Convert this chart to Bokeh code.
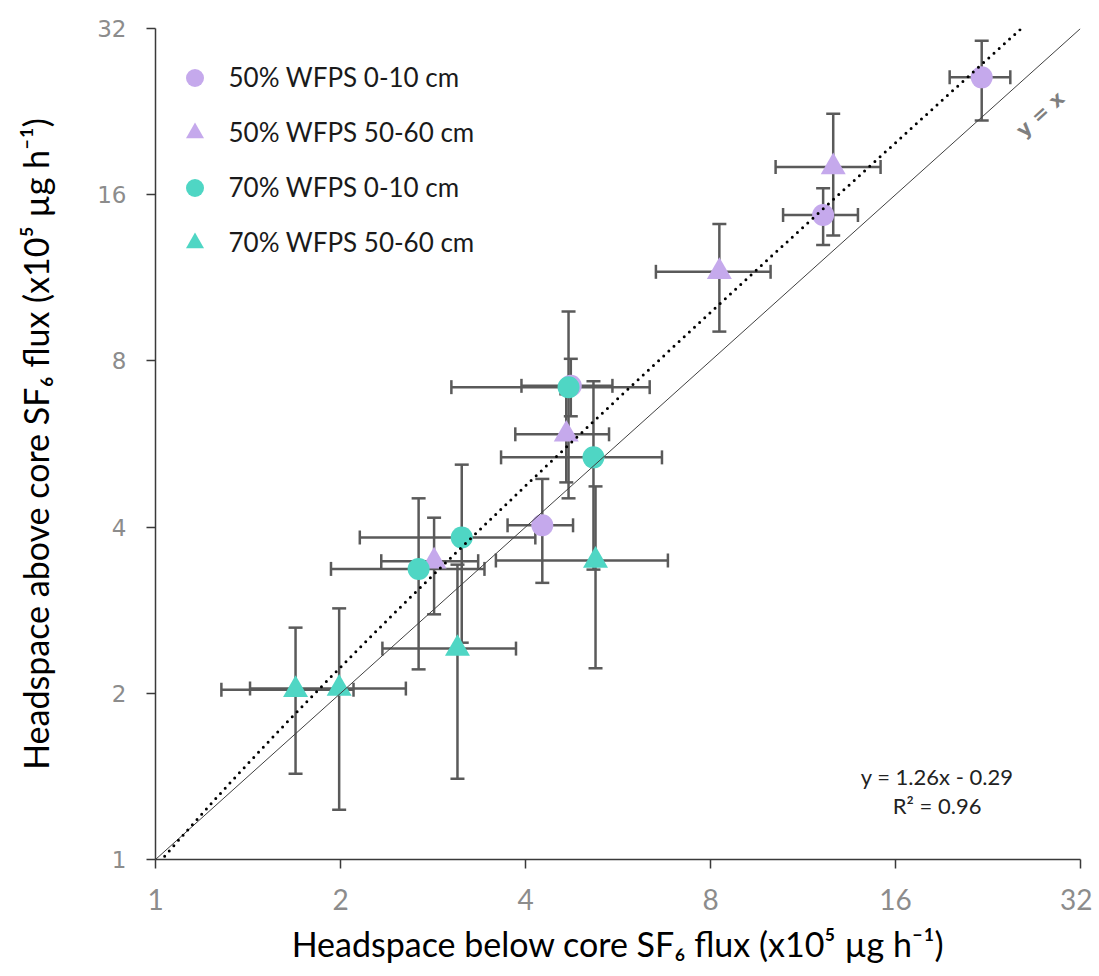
import numpy as np
from bokeh.plotting import figure
from bokeh.models import (ColumnDataSource, Whisker, TeeHead, FixedTicker, Label,
                          Legend, LegendItem, NumeralTickFormatter, Range1d)
from bokeh.embed import file_html
from bokeh.resources import INLINE

# ---------------- data ----------------
series_names = ["50% WFPS 0-10 cm", "50% WFPS 50-60 cm", "70% WFPS 0-10 cm", "70% WFPS 50-60 cm"]

s1_x = [22.1, 12.2, 4.26, 4.74]
s1_xerr = [2.5, 1.7, 0.52, 0.80]
s1_y = [26.1, 14.7, 4.03, 7.21]
s1_yerr = [4.3, 1.73, 0.86, 0.86]

s2_x = [12.67, 8.27, 4.66, 2.84]
s2_xerr = [2.46, 1.75, 0.81, 0.51]
s2_y = [17.96, 11.6, 5.89, 3.47]
s2_yerr = [4.46, 2.56, 1.07, 0.69]

s3_x = [4.70, 5.16, 3.15, 2.68]
s3_xerr = [1.67, 1.51, 1.0, 0.75]
s3_y = [7.17, 5.35, 3.83, 3.36]
s3_yerr = [2.66, 2.0, 1.36, 1.15]

s4_x = [5.20, 3.10, 1.69, 1.99]
s4_xerr = [1.62, 0.76, 0.41, 0.565]
s4_y = [3.48, 2.41, 2.03, 2.04]
s4_yerr = [1.26, 1.01, 0.60, 0.81]

axis_ticks = [1, 2, 4, 8, 16, 32]
fit_slope = 1.26
fit_intercept = -0.29
fit_text = "y = 1.26x - 0.29"
r2_text = "R² = 0.96"

PURPLE = "#c5a9ec"
CYAN = "#4fd6c4"
ERR = "#5a5a5a"
TITLE_FONT = "Lato"

p = figure(x_axis_type="log", y_axis_type="log",
           x_range=Range1d(1, 32), y_range=Range1d(1, 32),
           frame_width=925, frame_height=831,
           min_border_left=155, min_border_right=12, min_border_top=28, min_border_bottom=108,
           output_backend="svg", toolbar_location=None)
p.outline_line_color = None
p.xgrid.visible = False
p.ygrid.visible = False
p.background_fill_color = "white"
p.border_fill_color = "white"

for ax in (p.xaxis[0], p.yaxis[0]):
    ax.ticker = FixedTicker(ticks=axis_ticks)
    ax.formatter = NumeralTickFormatter(format="0")
    ax.axis_line_color = "#3a3a3a"
    ax.axis_line_width = 1.5
    ax.major_tick_line_color = "#3a3a3a"
    ax.major_tick_line_width = 1.5
    ax.major_tick_out = 9
    ax.major_tick_in = 0
    ax.minor_tick_out = 0
    ax.minor_tick_in = 0
    ax.axis_label_text_font = TITLE_FONT
    ax.axis_label_text_font_style = "normal"
    ax.axis_label_text_color = "black"
    ax.axis_label_text_font_size = "34px"

xa = p.xaxis[0]
xa.axis_label = "Headspace below core SF₆ flux (x10⁵ µg h⁻¹)"
xa.major_label_text_font = TITLE_FONT
xa.major_label_text_font_size = "28px"
xa.major_label_text_color = "#8c8c8c"
xa.major_label_standoff = 20
xa.axis_label_standoff = 10

ya = p.yaxis[0]
ya.axis_label = "Headspace above core SF₆ flux (x10⁵ µg h⁻¹)"
ya.major_label_text_font = "DejaVu Sans"
ya.major_label_text_font_size = "23px"
ya.major_label_text_color = "#8c8c8c"
ya.major_label_standoff = 20
ya.major_label_orientation = "horizontal"
ya.axis_label_standoff = 38

series = [
    (s1_x, s1_xerr, s1_y, s1_yerr, "circle", PURPLE, 22),
    (s2_x, s2_xerr, s2_y, s2_yerr, "triangle", PURPLE, 25),
    (s3_x, s3_xerr, s3_y, s3_yerr, "circle", CYAN, 22),
    (s4_x, s4_xerr, s4_y, s4_yerr, "triangle", CYAN, 25),
]

sources = []
for xs, xe, ys, ye, mk, col, sz in series:
    xs_a, xe_a, ys_a, ye_a = map(np.array, (xs, xe, ys, ye))
    src = ColumnDataSource(dict(x=xs_a, y=ys_a, xl=xs_a - xe_a, xu=xs_a + xe_a,
                                yl=ys_a - ye_a, yu=ys_a + ye_a))
    sources.append(src)
    for base, lo, up, dim in (("y", "xl", "xu", "width"), ("x", "yl", "yu", "height")):
        w = Whisker(source=src, base=base, lower=lo, upper=up, dimension=dim,
                    line_color=ERR, line_width=2.5,
                    upper_head=TeeHead(size=14, line_color=ERR, line_width=2.5),
                    lower_head=TeeHead(size=14, line_color=ERR, line_width=2.5))
        p.add_layout(w)

renderers = []
for (xs, xe, ys, ye, mk, col, sz), src in zip(series, sources):
    r = p.scatter("x", "y", source=src, marker=mk, size=sz, fill_color=col,
                  line_color=None)
    renderers.append(r)

# lines
line_x = np.array([1.0, 32.0])
p.line(line_x, line_x, line_color="#404040", line_width=1)
fx = np.linspace(1.0, (32 - fit_intercept) / fit_slope, 300)
p.line(fx, fit_slope * fx + fit_intercept, line_color="black", line_width=3,
       line_dash="0 7", line_cap="round")

p.add_layout(Label(x=27.5, y=22.4, text="y = x", angle=0.733, text_align="center",
                   text_baseline="middle", text_font="DejaVu Sans", text_font_style="bold",
                   text_color="#7f7f7f", text_font_size="20px"))
p.add_layout(Label(x=18.7, y=1.414, text=fit_text, text_align="center",
                   text_baseline="middle", text_font=TITLE_FONT,
                   text_color="#222222", text_font_size="22px"))
p.add_layout(Label(x=18.7, y=1.253, text=r2_text, text_align="center",
                   text_baseline="middle", text_font=TITLE_FONT,
                   text_color="#222222", text_font_size="22px"))

legend = Legend(items=[LegendItem(label=n, renderers=[r]) for n, r in zip(series_names, renderers)],
                location=(16.5, 594.5), padding=0, margin=0, spacing=10,
                glyph_width=45, glyph_height=45, label_standoff=12,
                label_text_font=TITLE_FONT, label_text_font_size="26px",
                label_text_color="#1a1a1a", border_line_color=None,
                background_fill_alpha=0)
p.add_layout(legend)

open("out.html", "w").write(file_html(p, INLINE))
